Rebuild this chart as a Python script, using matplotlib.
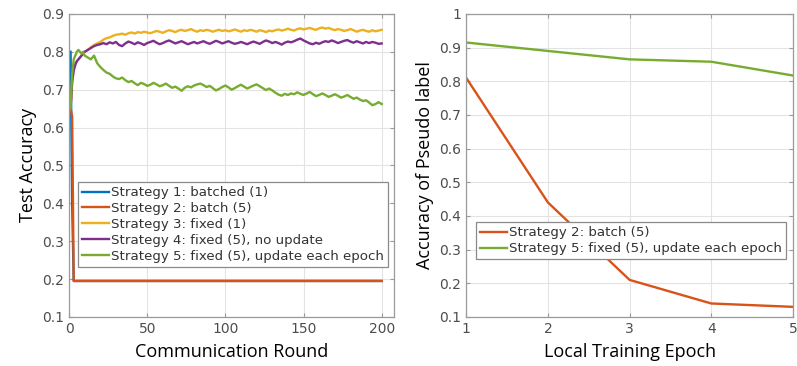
import matplotlib
matplotlib.use("Agg")
import matplotlib.pyplot as plt

# rounds for the smooth strategies (3, 4, 5)
rounds = [1, 2, 3, 4, 5, 6, 7, 8, 9, 10] + list(range(12, 201, 2))

# strategies 1 and 2 collapse right away and then stay flat
batch_rounds = [1, 2, 3, 200]
s1_batched = [0.80, 0.40, 0.195, 0.195]
s2_batch = [0.65, 0.63, 0.195, 0.195]

s3_fixed = [
    0.65, 0.72, 0.76, 0.77, 0.775, 0.78, 0.785, 0.79, 0.795, 0.80,
    0.805, 0.812, 0.818, 0.822, 0.826, 0.832, 0.836, 0.838, 0.842, 0.845,
    0.846, 0.848, 0.845, 0.849, 0.851, 0.848, 0.852, 0.850, 0.853, 0.851,
    0.849, 0.852, 0.855, 0.853, 0.850, 0.854, 0.857, 0.855, 0.852, 0.856,
    0.858, 0.855, 0.857, 0.860, 0.856, 0.853, 0.857, 0.855, 0.858, 0.856,
    0.853, 0.856, 0.858, 0.855, 0.857, 0.854, 0.856, 0.859, 0.856, 0.853,
    0.857, 0.855, 0.858, 0.856, 0.853, 0.857, 0.855, 0.852, 0.856, 0.854,
    0.857, 0.859, 0.856, 0.858, 0.861, 0.858, 0.856, 0.860, 0.862, 0.859,
    0.861, 0.863, 0.860, 0.858, 0.862, 0.864, 0.861, 0.863, 0.860, 0.857,
    0.860, 0.858, 0.855, 0.857, 0.860, 0.857, 0.853, 0.856, 0.858, 0.855,
    0.853, 0.857, 0.854, 0.856, 0.858,
]

s4_fixed_no_update = [
    0.65, 0.72, 0.75, 0.765, 0.775, 0.78, 0.785, 0.79, 0.795, 0.80,
    0.805, 0.81, 0.815, 0.818, 0.82, 0.823, 0.82, 0.825, 0.822, 0.826,
    0.818, 0.815, 0.822, 0.827, 0.824, 0.82, 0.825, 0.822, 0.818, 0.823,
    0.826, 0.829, 0.824, 0.82, 0.823, 0.827, 0.83, 0.826, 0.822, 0.825,
    0.828, 0.824, 0.82, 0.823, 0.826, 0.822, 0.825, 0.828, 0.824, 0.821,
    0.825, 0.829, 0.826, 0.822, 0.825, 0.828, 0.824, 0.821, 0.823, 0.826,
    0.823, 0.82, 0.824, 0.827, 0.824, 0.821, 0.826, 0.83, 0.827, 0.823,
    0.826, 0.823, 0.819, 0.824, 0.827, 0.825, 0.828, 0.832, 0.835, 0.83,
    0.826, 0.822, 0.82, 0.824, 0.821, 0.825, 0.828, 0.826, 0.83, 0.827,
    0.823, 0.826, 0.829, 0.831, 0.827, 0.824, 0.828, 0.825, 0.822, 0.826,
    0.823, 0.826, 0.824, 0.821, 0.822,
]

s5_fixed_update = [
    0.65, 0.74, 0.78, 0.79, 0.80, 0.805, 0.80, 0.795, 0.80, 0.79,
    0.785, 0.78, 0.79, 0.77, 0.76, 0.752, 0.745, 0.742, 0.735, 0.73,
    0.728, 0.732, 0.725, 0.72, 0.723, 0.717, 0.712, 0.718, 0.715, 0.71,
    0.713, 0.718, 0.714, 0.709, 0.712, 0.716, 0.71, 0.705, 0.708, 0.703,
    0.697, 0.705, 0.709, 0.706, 0.711, 0.714, 0.716, 0.712, 0.707, 0.71,
    0.704, 0.698, 0.702, 0.707, 0.711, 0.706, 0.70, 0.704, 0.709, 0.713,
    0.708, 0.703, 0.707, 0.711, 0.714, 0.709, 0.704, 0.699, 0.703, 0.698,
    0.692, 0.687, 0.684, 0.689, 0.686, 0.69, 0.688, 0.693, 0.689, 0.686,
    0.69, 0.694, 0.688, 0.683, 0.686, 0.69, 0.686, 0.681, 0.684, 0.688,
    0.684, 0.679, 0.682, 0.686, 0.681, 0.676, 0.679, 0.674, 0.67, 0.672,
    0.666, 0.659, 0.662, 0.667, 0.662,
]

labels = [
    "Strategy 1: batched (1)",
    "Strategy 2: batch (5)",
    "Strategy 3: fixed (1)",
    "Strategy 4: fixed (5), no update",
    "Strategy 5: fixed (5), update each epoch",
]

# right panel: pseudo label accuracy per local epoch
epochs = [1, 2, 3, 4, 5]
pseudo_s2 = [0.81, 0.44, 0.21, 0.14, 0.13]
pseudo_s5 = [0.915, 0.89, 0.865, 0.858, 0.817]

colors = ["#0072BD", "#D95319", "#EDB120", "#7E2F8E", "#77AC30"]
tick_gray = "#4d4d4d"
label_font = "Open Sans"


def style_axes(ax):
    ax.grid(True, color="#e3e3e3", linewidth=0.8)
    ax.set_axisbelow(True)
    for sp in ax.spines.values():
        sp.set_color("#9a9a9a")
        sp.set_linewidth(0.9)
    ax.tick_params(direction="in", length=3, colors="#9a9a9a",
                   labelcolor=tick_gray, labelsize=10, top=True, right=True)


def add_legend(ax, anchor):
    leg = ax.legend(loc="lower left", bbox_to_anchor=anchor, fontsize=9.6,
                    handlelength=2.0, handletextpad=0.15, labelspacing=0.22,
                    borderpad=0.3, borderaxespad=0, fancybox=False, framealpha=1)
    leg.get_frame().set_edgecolor("#8a8a8a")
    leg.get_frame().set_linewidth(0.9)
    for t in leg.get_texts():
        t.set_color("#333333")
    return leg


fig = plt.figure(figsize=(7.97, 3.66), dpi=100)
ax1 = fig.add_axes([0.0866, 0.134, 0.408, 0.828])
ax2 = fig.add_axes([0.585, 0.134, 0.410, 0.828])

lw = 1.7
ax1.plot(batch_rounds, s1_batched, color=colors[0], lw=lw, label=labels[0])
ax1.plot(batch_rounds, s2_batch, color=colors[1], lw=lw, label=labels[1])
ax1.plot(rounds, s3_fixed, color=colors[2], lw=lw, label=labels[2])
ax1.plot(rounds, s4_fixed_no_update, color=colors[3], lw=lw, label=labels[3])
ax1.plot(rounds, s5_fixed_update, color=colors[4], lw=lw, label=labels[4])

ax1.set_xlim(0, 208)
ax1.set_ylim(0.1, 0.9)
ax1.set_xticks([0, 50, 100, 150, 200])
ax1.set_yticks([0.1, 0.2, 0.3, 0.4, 0.5, 0.6, 0.7, 0.8, 0.9])
style_axes(ax1)
ax1.set_xlabel("Communication Round", fontsize=13, family=label_font, labelpad=5)
ax1.set_ylabel("Test Accuracy", fontsize=13, family=label_font, labelpad=4)
add_legend(ax1, (0.028, 0.165))

ax2.plot(epochs, pseudo_s2, color=colors[1], lw=lw, label=labels[1])
ax2.plot(epochs, pseudo_s5, color=colors[4], lw=lw, label=labels[4])
ax2.set_xlim(1, 5)
ax2.set_ylim(0.1, 1.0)
ax2.set_xticks(epochs)
ax2.set_yticks([0.1, 0.2, 0.3, 0.4, 0.5, 0.6, 0.7, 0.8, 0.9, 1.0])
ax2.set_yticklabels(["0.1", "0.2", "0.3", "0.4", "0.5", "0.6", "0.7", "0.8", "0.9", "1"])
style_axes(ax2)
ax2.set_xlabel("Local Training Epoch", fontsize=13, family=label_font, labelpad=5)
ax2.set_ylabel("Accuracy of Pseudo label", fontsize=13, family=label_font, labelpad=4)
add_legend(ax2, (0.03, 0.19))

fig.savefig("out.png", dpi=100)
